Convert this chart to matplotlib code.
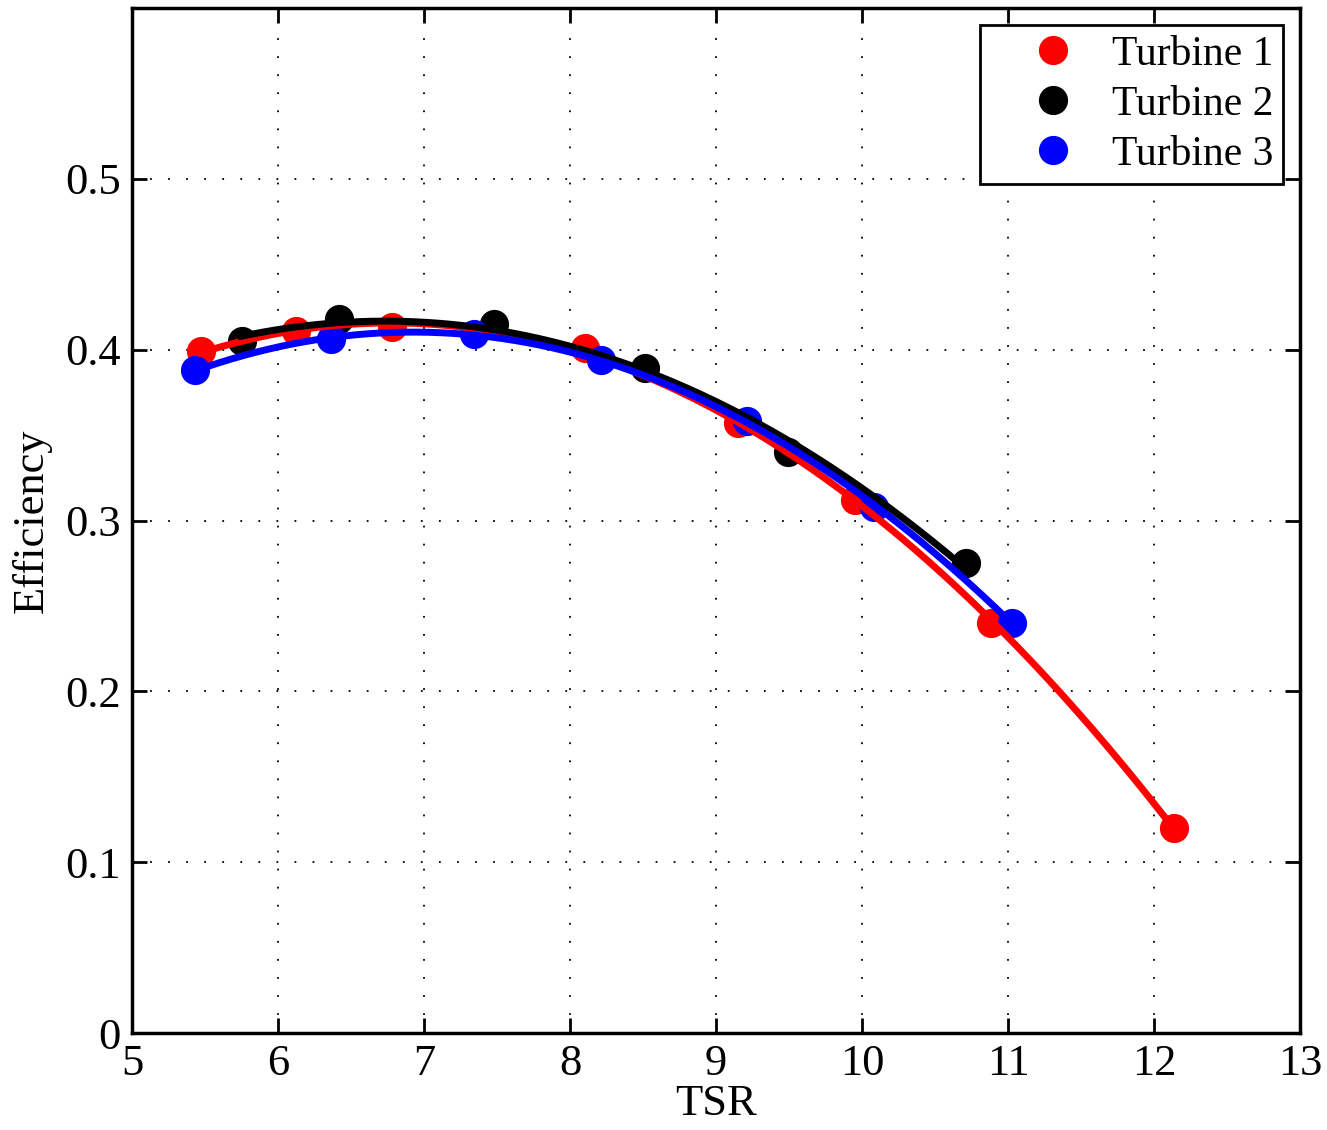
import numpy as np
import matplotlib
matplotlib.use("Agg")
import matplotlib.pyplot as plt
from matplotlib.lines import Line2D

# TSR / efficiency
tsr_1 = [5.47, 6.12, 6.78, 8.10, 9.15, 9.95, 10.88, 12.14]
eff_1 = [0.399, 0.411, 0.413, 0.401, 0.357, 0.312, 0.240, 0.120]

tsr_2 = [5.75, 6.42, 7.48, 8.51, 9.49, 10.71]
eff_2 = [0.405, 0.418, 0.415, 0.389, 0.340, 0.275]

tsr_3 = [5.43, 6.36, 7.34, 8.21, 9.21, 10.08, 11.03]
eff_3 = [0.388, 0.406, 0.409, 0.394, 0.358, 0.308, 0.240]

labels = ["Turbine 1", "Turbine 2", "Turbine 3"]
colors = ["#ff0000", "#000000", "#0000ff"]

plt.rcParams["font.family"] = ["Liberation Serif", "DejaVu Serif"]

fig = plt.figure(figsize=(13.27, 11.3), dpi=100)
ax = fig.add_axes([0.0995, 0.0858, 0.8802, 0.9071])

series = [(tsr_1, eff_1), (tsr_2, eff_2), (tsr_3, eff_3)]

for (x, y), c in zip(series, colors):
    ax.plot(x, y, "o", color=c, markersize=20, zorder=3)

# quadratic fit through each turbine's points
for (x, y), c in zip(series, colors):
    coef = np.polyfit(x, y, 2)
    xs = np.linspace(min(x), max(x), 200)
    ax.plot(xs, np.polyval(coef, xs), "-", color=c, linewidth=5, zorder=4)

ax.set_xlim(5, 13)
ax.set_ylim(0, 0.6)
ax.set_xticks(range(5, 14))
ax.set_yticks([0, 0.1, 0.2, 0.3, 0.4, 0.5])
ax.set_yticklabels(["0", "0.1", "0.2", "0.3", "0.4", "0.5"])

ax.grid(True, linestyle=(0, (1, 9)), color="black", linewidth=1.3)
ax.tick_params(direction="in", top=True, right=True, length=11, width=2,
               labelsize=32, pad=8)
for s in ax.spines.values():
    s.set_linewidth(2.5)

ax.set_xlabel("TSR", fontsize=32, labelpad=0)
ax.set_ylabel("Efficiency", fontsize=32, labelpad=10)

handles = [Line2D([], [], marker="o", linestyle="none", color=c, markersize=20)
           for c in colors]
leg = ax.legend(handles, labels, loc="upper right", fontsize=30,
                frameon=True, fancybox=False, edgecolor="black", framealpha=1,
                borderpad=0.25, labelspacing=0.28, handletextpad=-0.1,
                handlelength=3.0, borderaxespad=0.4)
leg.get_frame().set_linewidth(2)

fig.savefig("out.png", dpi=100, facecolor="white")
